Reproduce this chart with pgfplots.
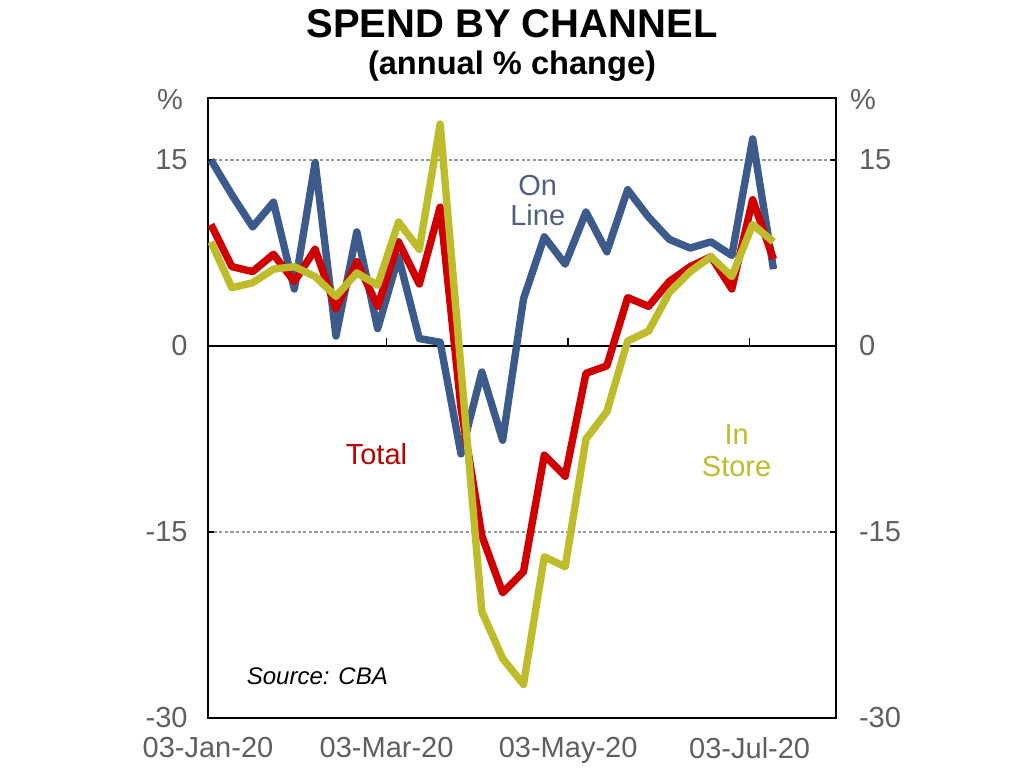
\documentclass[border=0pt]{standalone}
\usepackage{fontspec}
\setmainfont{Liberation Sans}
\usepackage{pgfplots}
\pgfplotsset{compat=1.18}
\definecolor{onl}{RGB}{60,90,138}
\definecolor{tot}{RGB}{208,0,0}
\definecolor{ins}{RGB}{190,188,42}
\definecolor{onltxt}{RGB}{80,96,128}
\definecolor{tickgray}{RGB}{95,95,95}

\pgfplotstableread{
day online total instore
1   15.0  9.8   8.4
8   12.2  6.4   4.7
15  9.6   6.0   5.1
22  11.6  7.4   6.2
29  4.6   5.2   6.4
36  14.8  7.8   5.6
43  0.8   3.0   4.0
50  9.2   6.8   5.9
57  1.4   3.2   4.9
64  7.2   8.4   10.0
71  0.6   5.0   7.8
78  0.3   11.2  17.9
85  -8.7  -5.0  -1.8
92  -2.1  -15.3 -21.4
99  -7.6  -19.9 -25.2
106 3.8   -18.2 -27.3
113 8.8   -8.8  -17.0
120 6.6   -10.5 -17.8
127 10.8  -2.2  -7.5
134 7.6   -1.6  -5.3
141 12.6  3.9   0.4
148 10.4  3.2   1.2
155 8.6   5.2   4.3
162 7.9   6.4   6.0
169 8.4   7.2   7.2
176 7.3   4.6   5.6
183 16.7  11.8  9.8
190 6.2   7.0   8.4
}\spend

\begin{document}
\begin{tikzpicture}
\useasboundingbox (0,0) rectangle (512bp,384bp);
\node[anchor=base, font=\fontsize{20bp}{24bp}\selectfont\bfseries] at (256bp,365bp) {SPEND BY CHANNEL};
\node[anchor=base, font=\fontsize{16.3bp}{20bp}\selectfont\bfseries] at (256bp,346.5bp) {(annual \% change)};
\node[font=\fontsize{14.5bp}{17bp}\selectfont, text=tickgray] at (85bp,334bp) {\%};
\node[font=\fontsize{14.5bp}{17bp}\selectfont, text=tickgray] at (431.5bp,334bp) {\%};

\begin{axis}[
  at={(104bp,25bp)}, anchor=south west,
  width=314bp, height=310bp, scale only axis,
  xmin=0, xmax=211, ymin=-30, ymax=20,
  axis line style={black, line width=1.1bp},
  xtick={0,60,121,182},
  xticklabels={03-Jan-20,03-Mar-20,03-May-20,03-Jul-20},
  x tick style={draw=none},
  ytick={-30,-15,0,15},
  y tick style={black, line width=0.8bp},
  tick align=inside,
  major tick length=3bp,
  ymajorgrids,
  major grid style={gray!80, line width=0.7bp, dash pattern=on 1.6bp off 1.2bp},
  /pgf/number format/assume math mode=true,
  tick label style={font=\fontsize{14.5bp}{17bp}\selectfont, text=tickgray},
  yticklabel style={xshift=-6.7bp},
  xticklabel style={yshift=-6.2bp},
  clip=false,
]
\draw[black, line width=1.1bp] (axis cs:0,0) -- (axis cs:211,0);
\draw[black, line width=0.8bp] (axis cs:60,0) -- (axis cs:60,0.65);
\draw[black, line width=0.8bp] (axis cs:121,0) -- (axis cs:121,0.65);
\draw[black, line width=0.8bp] (axis cs:182,0) -- (axis cs:182,0.65);
\addplot[onl, line width=3.7bp, line join=round] table[x=day, y=online] {\spend};
\addplot[tot, line width=3.7bp, line join=round] table[x=day, y=total] {\spend};
\addplot[ins, line width=3.7bp, line join=round] table[x=day, y=instore] {\spend};
\node[text=onltxt, align=center, font=\fontsize{14.5bp}{15bp}\selectfont] at (axis cs:110.8,11.7) {On\\Line};
\node[text=tot!90!black, font=\fontsize{14.5bp}{15bp}\selectfont] at (axis cs:56.6,-8.7) {Total};
\node[text=ins, align=center, font=\fontsize{14.5bp}{16bp}\selectfont] at (axis cs:177.6,-8.45) {In\\Store};
\node[anchor=west, font=\fontsize{12bp}{14bp}\selectfont\itshape] at (axis cs:10.7,-26.6) {Source: CBA};
\end{axis}

\begin{axis}[
  at={(104bp,25bp)}, anchor=south west,
  width=314bp, height=310bp, scale only axis,
  xmin=0, xmax=211, ymin=-30, ymax=20,
  axis x line=none, axis y line*=right,
  axis line style={draw=none},
  ytick={-30,-15,0,15},
  major tick length=0pt,
  /pgf/number format/assume math mode=true,
  tick label style={font=\fontsize{14.5bp}{17bp}\selectfont, text=tickgray},
  yticklabel style={xshift=8bp},
]
\end{axis}
\end{tikzpicture}
\end{document}
